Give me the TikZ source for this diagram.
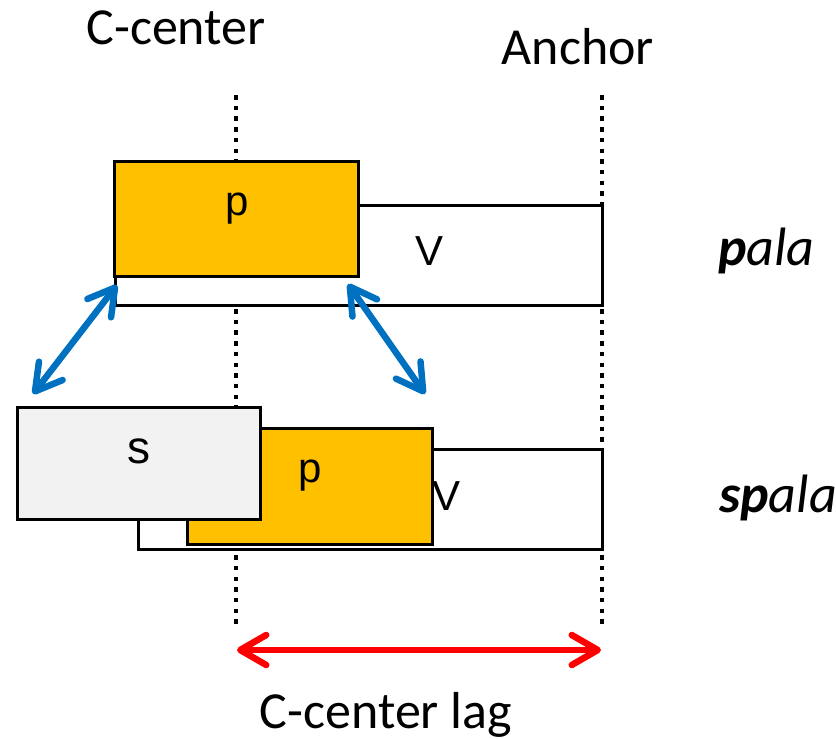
\documentclass[tikz,border=0pt]{standalone}
\usepackage{fontspec}
\setmainfont{Carlito}
\newfontfamily\boxfont{Liberation Sans}
\usetikzlibrary{arrows.meta}
\definecolor{gestorange}{HTML}{FFC000}
\definecolor{gestgray}{HTML}{F2F2F2}
\definecolor{linkblue}{HTML}{0070C0}
\definecolor{lagred}{HTML}{FF0000}
\tikzset{
  gesture/.style={draw=black, line width=3pt, inner sep=0pt, outer sep=0pt},
  vowel/.style={gesture, fill=white},
  cons/.style={gesture, fill=gestorange},
  scons/.style={gesture, fill=gestgray},
  seglabel/.style={font=\boxfont\fontsize{42}{48}\selectfont, inner sep=0pt, anchor=base},
  heading/.style={font=\fontsize{52}{60}\selectfont, inner sep=0pt, anchor=base},
  wordlabel/.style={font=\fontsize{54}{60}\selectfont, inner sep=0pt, anchor=base west},
  landmark/.style={line width=4.5pt, dash pattern=on 4.5pt off 6.2pt},
  barb/.tip={Straight Barb[length=26pt,width=30pt,line cap=round,line join=round]},
  coupling/.style={draw=linkblue, line width=6.5pt, barb-barb},
  lag/.style={draw=lagred, line width=6.5pt, barb-barb},
}
\begin{document}
\begin{tikzpicture}[x=1pt, y=-1pt]
\useasboundingbox (0,0) rectangle (836,739);

% headings
\node[heading] (cclabel) at (176,44) {C-center};
\node[heading] (anclabel) at (578,64) {Anchor};

% landmark lines
\coordinate (cctop) at (236,95);
\coordinate (ccbot) at (236,628);
\coordinate (antop) at (602,95);
\coordinate (anbot) at (602,628);
\draw[landmark] (cctop) -- (ccbot);
\draw[landmark] (antop) -- (anbot);

% pala
\node[vowel, minimum width=487pt, minimum height=100pt] (v1) at (358.5,255) {};
\node[cons, minimum width=244pt, minimum height=115pt] (p1) at (236,218.5) {};
\node[seglabel] (p1t) at (237,215) {p};
\node[seglabel] (v1t) at (430,265) {V};
\node[wordlabel] (w1) at (718,265) {\textbf{\textit{p}}\textit{ala}};

% spala
\node[vowel, minimum width=464pt, minimum height=100pt] (v2) at (370,499) {};
\node[cons, minimum width=245pt, minimum height=116pt] (p2) at (309.5,486) {};
\node[scons, minimum width=243pt, minimum height=112pt] (s2) at (138.5,463) {};
\node[seglabel, font=\boxfont\fontsize{46}{52}\selectfont] (s2t) at (139,463) {s};
\node[seglabel] (p2t) at (310,482) {p};
\node[seglabel] (v2t) at (447,510) {V};
\node[wordlabel] (w2) at (719,512) {\textbf{\textit{sp}}\textit{ala}};

% coupling arrows
\coordinate (la) at (117,285);
\coordinate (lb) at (33,394);
\coordinate (ra) at (348,284);
\coordinate (rb) at (425,394);
\draw[coupling] (la) -- (lb);
\draw[coupling] (ra) -- (rb);

% lag arrow
\coordinate (lagl) at (237,650);
\coordinate (lagr) at (601,650);
\draw[lag] (lagl) -- (lagr);
\node[heading] (laglabel) at (386,728) {C-center lag};
\end{tikzpicture}
\end{document}
